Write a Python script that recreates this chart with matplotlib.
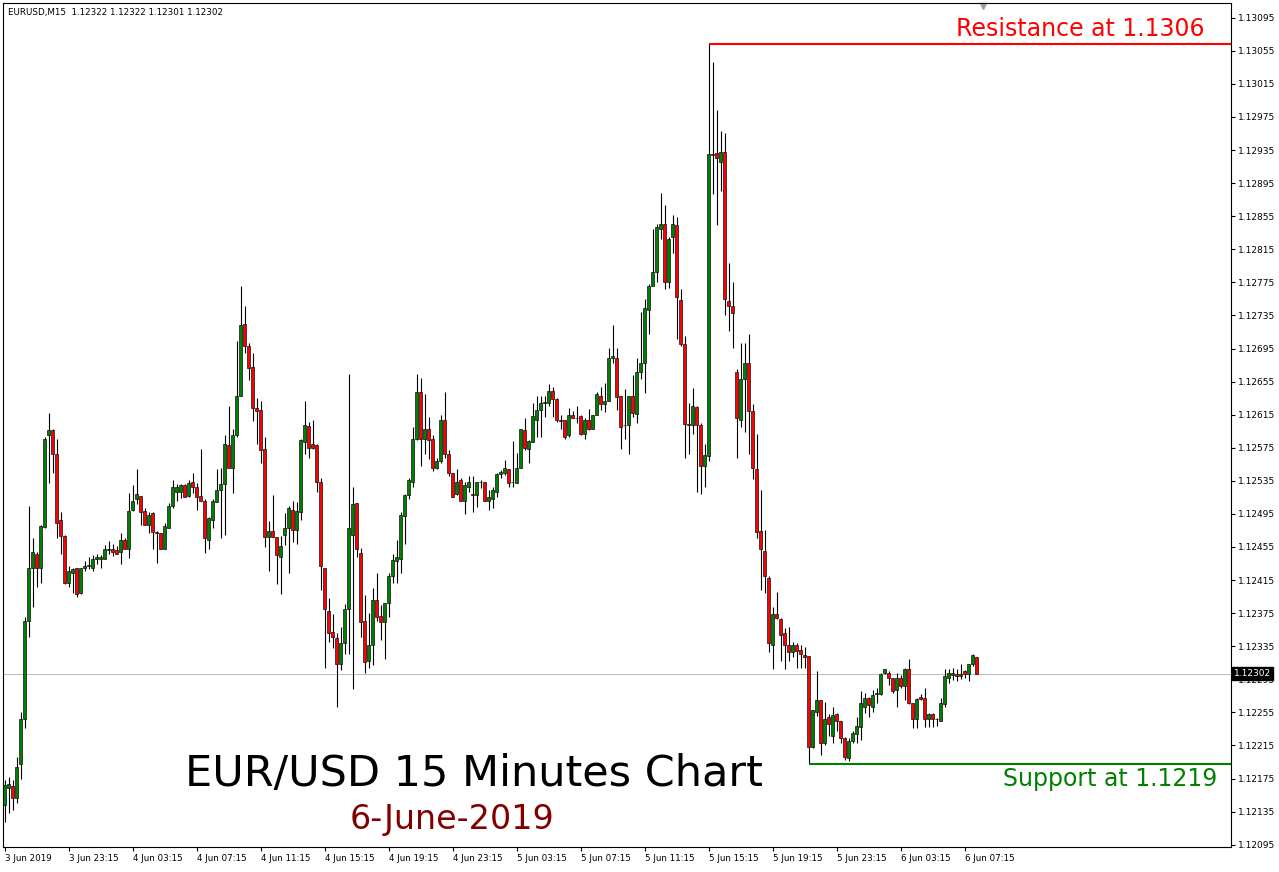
import numpy as np
import matplotlib.pyplot as plt
from matplotlib.transforms import blended_transform_factory

# EURUSD M15 candles, 3 Jun 19:15 -> 6 Jun 07:45
opens = [
    1.12143, 1.12164, 1.12166, 1.12152, 1.12193, 1.12247, 1.12366, 1.12430, 1.12447, 1.12430,
    1.12479, 1.12591, 1.12597, 1.12567, 1.12488, 1.12468, 1.12411, 1.12424, 1.12429, 1.12399,
    1.12429, 1.12432, 1.12430, 1.12440, 1.12441, 1.12440, 1.12451, 1.12452, 1.12451, 1.12449,
    1.12464, 1.12453, 1.12500, 1.12513, 1.12517, 1.12498, 1.12482, 1.12496, 1.12473, 1.12472,
    1.12453, 1.12478, 1.12504, 1.12522, 1.12521, 1.12530, 1.12517, 1.12534, 1.12527, 1.12517,
    1.12511, 1.12464, 1.12488, 1.12509, 1.12524, 1.12531, 1.12578, 1.12551, 1.12590, 1.12637,
    1.12725, 1.12698, 1.12673, 1.12623, 1.12621, 1.12573, 1.12467, 1.12474, 1.12467, 1.12443,
    1.12470, 1.12478, 1.12500, 1.12476, 1.12497, 1.12582, 1.12601, 1.12579, 1.12578, 1.12534,
    1.12429, 1.12378, 1.12352, 1.12345, 1.12313, 1.12339, 1.12380, 1.12470, 1.12508, 1.12448,
    1.12366, 1.12317, 1.12337, 1.12391, 1.12372, 1.12364, 1.12387, 1.12420, 1.12438, 1.12441,
    1.12493, 1.12518, 1.12534, 1.12585, 1.12642, 1.12585, 1.12598, 1.12586, 1.12550, 1.12559,
    1.12609, 1.12567, 1.12544, 1.12519, 1.12536, 1.12510, 1.12528, 1.12519, 1.12518, 1.12533,
    1.12534, 1.12511, 1.12513, 1.12521, 1.12543, 1.12545, 1.12549, 1.12533, 1.12532, 1.12551,
    1.12596, 1.12574, 1.12582, 1.12609, 1.12621, 1.12629, 1.12629, 1.12644, 1.12634, 1.12609,
    1.12608, 1.12590, 1.12615, 1.12611, 1.12613, 1.12592, 1.12609, 1.12598, 1.12615, 1.12638,
    1.12628, 1.12632, 1.12683, 1.12684, 1.12637, 1.12602, 1.12603, 1.12637, 1.12616, 1.12666,
    1.12677, 1.12742, 1.12771, 1.12787, 1.12840, 1.12845, 1.12775, 1.12830, 1.12844, 1.12754,
    1.12701, 1.12604, 1.12603, 1.12624, 1.12603, 1.12553, 1.12565, 1.12929, 1.12931, 1.12921,
    1.12933, 1.12753, 1.12747, 1.12667, 1.12609, 1.12658, 1.12678, 1.12619, 1.12549, 1.12474,
    1.12450, 1.12418, 1.12336, 1.12374, 1.12368, 1.12351, 1.12336, 1.12328, 1.12336, 1.12330,
    1.12324, 1.12323, 1.12213, 1.12255, 1.12270, 1.12218, 1.12249, 1.12226, 1.12253, 1.12244,
    1.12224, 1.12200, 1.12220, 1.12229, 1.12237, 1.12262, 1.12272, 1.12262, 1.12277, 1.12277,
    1.12303, 1.12303, 1.12296, 1.12282, 1.12297, 1.12287, 1.12308, 1.12266, 1.12247, 1.12273,
    1.12272, 1.12247, 1.12253, 1.12247, 1.12245, 1.12265, 1.12297, 1.12300, 1.12302, 1.12299,
    1.12305, 1.12302, 1.12313, 1.12322,
]
highs = [
    1.12173, 1.12177, 1.12173, 1.12201, 1.12255, 1.12370, 1.12504, 1.12466, 1.12449, 1.12481,
    1.12588, 1.12617, 1.12598, 1.12585, 1.12497, 1.12469, 1.12432, 1.12430, 1.12429, 1.12429,
    1.12438, 1.12443, 1.12445, 1.12447, 1.12445, 1.12457, 1.12462, 1.12459, 1.12456, 1.12472,
    1.12466, 1.12520, 1.12530, 1.12549, 1.12517, 1.12502, 1.12497, 1.12497, 1.12474, 1.12472,
    1.12484, 1.12508, 1.12536, 1.12531, 1.12531, 1.12531, 1.12536, 1.12544, 1.12532, 1.12573,
    1.12513, 1.12491, 1.12513, 1.12549, 1.12550, 1.12591, 1.12626, 1.12598, 1.12704, 1.12770,
    1.12747, 1.12702, 1.12690, 1.12635, 1.12631, 1.12588, 1.12487, 1.12518, 1.12467, 1.12468,
    1.12496, 1.12504, 1.12511, 1.12509, 1.12586, 1.12631, 1.12606, 1.12609, 1.12579, 1.12539,
    1.12430, 1.12393, 1.12374, 1.12351, 1.12358, 1.12386, 1.12664, 1.12528, 1.12508, 1.12454,
    1.12397, 1.12375, 1.12405, 1.12423, 1.12385, 1.12387, 1.12423, 1.12447, 1.12464, 1.12497,
    1.12519, 1.12539, 1.12600, 1.12664, 1.12659, 1.12640, 1.12612, 1.12590, 1.12562, 1.12614,
    1.12642, 1.12572, 1.12545, 1.12549, 1.12539, 1.12534, 1.12541, 1.12541, 1.12534, 1.12536,
    1.12534, 1.12524, 1.12528, 1.12544, 1.12548, 1.12560, 1.12549, 1.12583, 1.12569, 1.12598,
    1.12611, 1.12584, 1.12629, 1.12638, 1.12637, 1.12638, 1.12652, 1.12649, 1.12635, 1.12615,
    1.12609, 1.12623, 1.12619, 1.12626, 1.12615, 1.12611, 1.12622, 1.12615, 1.12642, 1.12648,
    1.12653, 1.12696, 1.12724, 1.12696, 1.12638, 1.12646, 1.12638, 1.12663, 1.12683, 1.12739,
    1.12755, 1.12773, 1.12840, 1.12846, 1.12883, 1.12868, 1.12830, 1.12857, 1.12854, 1.12767,
    1.12710, 1.12629, 1.12647, 1.12626, 1.12605, 1.12579, 1.13063, 1.13042, 1.12983, 1.12958,
    1.12955, 1.12798, 1.12775, 1.12670, 1.12702, 1.12702, 1.12712, 1.12628, 1.12592, 1.12524,
    1.12476, 1.12420, 1.12383, 1.12400, 1.12369, 1.12357, 1.12358, 1.12340, 1.12339, 1.12336,
    1.12334, 1.12323, 1.12258, 1.12305, 1.12270, 1.12267, 1.12253, 1.12262, 1.12254, 1.12244,
    1.12225, 1.12224, 1.12233, 1.12250, 1.12281, 1.12279, 1.12274, 1.12282, 1.12285, 1.12303,
    1.12308, 1.12305, 1.12296, 1.12303, 1.12300, 1.12309, 1.12319, 1.12266, 1.12272, 1.12277,
    1.12285, 1.12254, 1.12254, 1.12248, 1.12272, 1.12308, 1.12308, 1.12309, 1.12308, 1.12313,
    1.12306, 1.12314, 1.12326, 1.12322,
]
lows = [
    1.12122, 1.12133, 1.12137, 1.12145, 1.12175, 1.12236, 1.12346, 1.12383, 1.12407, 1.12412,
    1.12478, 1.12532, 1.12545, 1.12466, 1.12447, 1.12410, 1.12407, 1.12399, 1.12395, 1.12398,
    1.12426, 1.12428, 1.12426, 1.12435, 1.12430, 1.12440, 1.12447, 1.12444, 1.12446, 1.12435,
    1.12452, 1.12442, 1.12499, 1.12507, 1.12482, 1.12482, 1.12472, 1.12452, 1.12436, 1.12453,
    1.12453, 1.12478, 1.12502, 1.12511, 1.12514, 1.12515, 1.12516, 1.12520, 1.12500, 1.12510,
    1.12448, 1.12453, 1.12478, 1.12509, 1.12466, 1.12470, 1.12551, 1.12520, 1.12588, 1.12637,
    1.12690, 1.12657, 1.12607, 1.12579, 1.12556, 1.12455, 1.12426, 1.12467, 1.12410, 1.12398,
    1.12457, 1.12423, 1.12461, 1.12458, 1.12488, 1.12567, 1.12562, 1.12574, 1.12521, 1.12403,
    1.12309, 1.12340, 1.12333, 1.12262, 1.12306, 1.12326, 1.12326, 1.12283, 1.12443, 1.12346,
    1.12303, 1.12309, 1.12312, 1.12366, 1.12342, 1.12319, 1.12370, 1.12411, 1.12412, 1.12423,
    1.12459, 1.12513, 1.12527, 1.12584, 1.12553, 1.12568, 1.12561, 1.12547, 1.12549, 1.12556,
    1.12562, 1.12541, 1.12516, 1.12518, 1.12510, 1.12495, 1.12522, 1.12497, 1.12503, 1.12526,
    1.12510, 1.12500, 1.12502, 1.12516, 1.12539, 1.12542, 1.12527, 1.12527, 1.12532, 1.12551,
    1.12572, 1.12556, 1.12582, 1.12588, 1.12588, 1.12612, 1.12625, 1.12612, 1.12606, 1.12598,
    1.12585, 1.12588, 1.12611, 1.12605, 1.12591, 1.12586, 1.12597, 1.12598, 1.12614, 1.12621,
    1.12618, 1.12632, 1.12678, 1.12621, 1.12573, 1.12586, 1.12567, 1.12612, 1.12605, 1.12658,
    1.12641, 1.12712, 1.12770, 1.12775, 1.12827, 1.12767, 1.12768, 1.12811, 1.12706, 1.12698,
    1.12563, 1.12568, 1.12592, 1.12522, 1.12519, 1.12527, 1.12559, 1.12882, 1.12844, 1.12886,
    1.12736, 1.12716, 1.12696, 1.12562, 1.12600, 1.12594, 1.12568, 1.12537, 1.12466, 1.12403,
    1.12399, 1.12328, 1.12307, 1.12368, 1.12317, 1.12308, 1.12317, 1.12322, 1.12309, 1.12309,
    1.12309, 1.12193, 1.12212, 1.12251, 1.12204, 1.12216, 1.12226, 1.12218, 1.12232, 1.12218,
    1.12198, 1.12196, 1.12218, 1.12218, 1.12221, 1.12254, 1.12249, 1.12256, 1.12266, 1.12276,
    1.12302, 1.12288, 1.12278, 1.12261, 1.12285, 1.12270, 1.12265, 1.12236, 1.12236, 1.12270,
    1.12237, 1.12237, 1.12237, 1.12239, 1.12244, 1.12261, 1.12291, 1.12294, 1.12293, 1.12295,
    1.12296, 1.12293, 1.12311, 1.12301,
]
closes = [
    1.12167, 1.12168, 1.12152, 1.12189, 1.12247, 1.12366, 1.12430, 1.12449, 1.12430, 1.12480,
    1.12586, 1.12596, 1.12567, 1.12484, 1.12468, 1.12411, 1.12426, 1.12428, 1.12398, 1.12429,
    1.12432, 1.12433, 1.12440, 1.12443, 1.12443, 1.12452, 1.12452, 1.12449, 1.12447, 1.12463,
    1.12453, 1.12499, 1.12511, 1.12519, 1.12497, 1.12482, 1.12494, 1.12473, 1.12472, 1.12453,
    1.12480, 1.12505, 1.12528, 1.12527, 1.12530, 1.12516, 1.12532, 1.12527, 1.12516, 1.12510,
    1.12466, 1.12490, 1.12510, 1.12524, 1.12531, 1.12580, 1.12551, 1.12591, 1.12638, 1.12724,
    1.12698, 1.12672, 1.12623, 1.12620, 1.12572, 1.12467, 1.12474, 1.12467, 1.12445, 1.12456,
    1.12478, 1.12502, 1.12476, 1.12498, 1.12584, 1.12602, 1.12575, 1.12575, 1.12533, 1.12432,
    1.12380, 1.12351, 1.12346, 1.12313, 1.12339, 1.12380, 1.12478, 1.12507, 1.12453, 1.12364,
    1.12316, 1.12337, 1.12391, 1.12370, 1.12364, 1.12387, 1.12420, 1.12439, 1.12443, 1.12494,
    1.12518, 1.12536, 1.12585, 1.12643, 1.12585, 1.12598, 1.12584, 1.12551, 1.12559, 1.12608,
    1.12567, 1.12545, 1.12516, 1.12534, 1.12510, 1.12530, 1.12534, 1.12518, 1.12533, 1.12534,
    1.12510, 1.12515, 1.12524, 1.12543, 1.12546, 1.12550, 1.12532, 1.12533, 1.12551, 1.12598,
    1.12575, 1.12583, 1.12613, 1.12621, 1.12629, 1.12630, 1.12644, 1.12634, 1.12608, 1.12607,
    1.12588, 1.12614, 1.12611, 1.12611, 1.12592, 1.12609, 1.12598, 1.12614, 1.12640, 1.12628,
    1.12632, 1.12684, 1.12686, 1.12636, 1.12600, 1.12603, 1.12637, 1.12617, 1.12666, 1.12678,
    1.12744, 1.12770, 1.12788, 1.12842, 1.12845, 1.12775, 1.12828, 1.12845, 1.12757, 1.12701,
    1.12604, 1.12603, 1.12625, 1.12603, 1.12553, 1.12566, 1.12930, 1.12930, 1.12925, 1.12933,
    1.12755, 1.12747, 1.12738, 1.12611, 1.12658, 1.12677, 1.12619, 1.12551, 1.12473, 1.12452,
    1.12420, 1.12339, 1.12374, 1.12369, 1.12349, 1.12337, 1.12328, 1.12336, 1.12329, 1.12325,
    1.12322, 1.12213, 1.12258, 1.12270, 1.12218, 1.12247, 1.12241, 1.12252, 1.12244, 1.12224,
    1.12201, 1.12220, 1.12230, 1.12238, 1.12266, 1.12272, 1.12264, 1.12276, 1.12279, 1.12302,
    1.12307, 1.12296, 1.12281, 1.12297, 1.12287, 1.12308, 1.12266, 1.12247, 1.12271, 1.12271,
    1.12247, 1.12253, 1.12247, 1.12247, 1.12266, 1.12299, 1.12303, 1.12303, 1.12299, 1.12302,
    1.12302, 1.12313, 1.12324, 1.12302,
]

date_labels = ["3 Jun 2019", "3 Jun 23:15", "4 Jun 03:15", "4 Jun 07:15", "4 Jun 11:15",
               "4 Jun 15:15", "4 Jun 19:15", "4 Jun 23:15", "5 Jun 03:15", "5 Jun 07:15",
               "5 Jun 11:15", "5 Jun 15:15", "5 Jun 19:15", "5 Jun 23:15", "6 Jun 03:15",
               "6 Jun 07:15"]
bars_per_label = 16

price_ticks = [1.12095, 1.12135, 1.12175, 1.12215, 1.12255, 1.12295, 1.12335, 1.12375,
               1.12415, 1.12455, 1.12495, 1.12535, 1.12575, 1.12615, 1.12655, 1.12695,
               1.12735, 1.12775, 1.12815, 1.12855, 1.12895, 1.12935, 1.12975, 1.13015,
               1.13055, 1.13095]

title = "EUR/USD 15 Minutes Chart"
subtitle = "6-June-2019"
resistance_text = "Resistance at 1.1306"
support_text = "Support at 1.1219"

o = np.array(opens)
h = np.array(highs)
l = np.array(lows)
c = np.array(closes)
x = np.arange(len(c))

W, H = 1279, 872
fig = plt.figure(figsize=(W / 100, H / 100), dpi=100)
ax = fig.add_axes([3 / W, 25 / H, 1228 / W, 844 / H])

# current bid line
ax.axhline(c[-1], color='#c0c0c0', linewidth=0.8, zorder=1)

# candles
colors = ['#008000' if cc > oo else ('#ff0000' if cc < oo else 'black') for oo, cc in zip(o, c)]
ax.vlines(x, l, h, color='black', linewidth=0.8, zorder=2)
ax.bar(x, np.abs(c - o), width=0.72, bottom=np.minimum(o, c), color=colors,
       edgecolor='black', linewidth=0.45, zorder=3)

xmin, xmax = -0.425, 306.575
ax.set_xlim(xmin, xmax)
ax.set_ylim(1.120922, 1.131128)

# resistance at the spike high, support at the lowest low after it
r_i = int(np.argmax(h))
s_i = r_i + int(np.argmin(l[r_i:]))
ax.plot([r_i, xmax], [h[r_i], h[r_i]], color='#ff0000', linewidth=1.5, zorder=4, solid_capstyle='butt')
ax.plot([s_i, xmax], [l[s_i], l[s_i]], color='#008000', linewidth=1.5, zorder=4, solid_capstyle='butt')

# axes styling
for sp in ax.spines.values():
    sp.set_linewidth(0.8)
    sp.set_color('black')
ax.yaxis.tick_right()
ax.set_yticks(price_ticks)
ax.set_yticklabels([f"{v:.5f}" for v in price_ticks], fontsize=6.5)
ax.set_xticks(x[::bars_per_label])
ax.set_xticklabels(date_labels, fontsize=6.3, ha='left')
ax.tick_params(axis='both', direction='out', length=3, width=0.8, pad=2, colors='black')

# current price box
tr = blended_transform_factory(ax.transAxes, ax.transData)
ax.text(1.0025, c[-1], f"{c[-1]:.5f}", transform=tr, fontsize=6.5, color='white',
        va='center', ha='left', clip_on=False, zorder=10,
        bbox=dict(boxstyle='square,pad=0.2', facecolor='black', edgecolor='black'))

# header and annotations
fig.text(8 / W, 1 - 15 / H, "EURUSD,M15  1.12322 1.12322 1.12301 1.12302",
         fontsize=6.3, va='baseline', ha='left')
fig.text(473.5 / W, 1 - 786 / H, title, fontsize=31, ha='center', va='baseline', color='black')
fig.text(452 / W, 1 - 829 / H, subtitle, fontsize=24, ha='center', va='baseline', color='#800000')
fig.text(1205 / W, 1 - 36 / H, resistance_text, fontsize=17, ha='right', va='baseline', color='#ff0000')
fig.text(1003 / W, 1 - 786 / H, support_text, fontsize=17, ha='left', va='baseline', color='#008000')

# chart shift marker
ax.plot([0.798], [0.996], marker='v', markersize=5, color='#a0a0a0',
        transform=ax.transAxes, clip_on=False)

fig.savefig('out.png', dpi=100)
